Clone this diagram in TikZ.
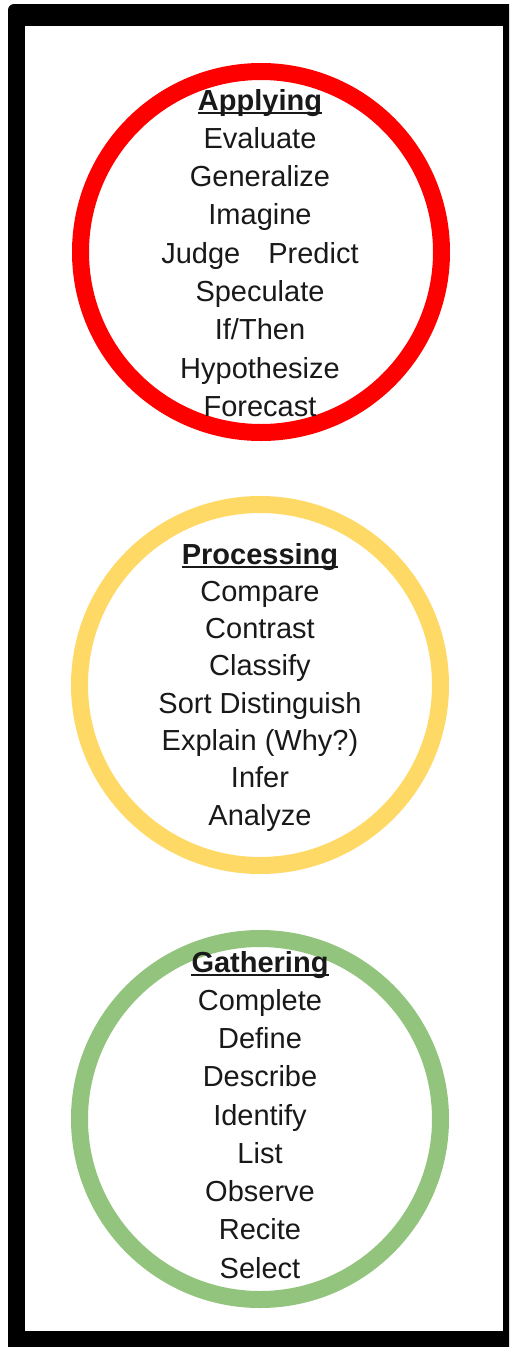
\documentclass[tikz,border=0pt]{standalone}
\usepackage{fontspec}
\setmainfont{Liberation Sans}
\definecolor{ringred}{RGB}{255,0,0}
\definecolor{ringyellow}{RGB}{255,217,102}
\definecolor{ringgreen}{RGB}{147,196,125}
\definecolor{inkgray}{RGB}{25,25,25}
\begin{document}
\begin{tikzpicture}[x=1pt,y=-1pt,
  ring/.style={circle, draw, line width=17pt, minimum size=361pt, inner sep=0pt},
  word/.style={anchor=base, inner sep=0pt, font=\fontsize{29}{35}\selectfont, text=inkgray},
  head/.style={anchor=base, inner sep=0pt, font=\fontsize{29}{35}\selectfont\bfseries, text=inkgray},
  uline/.style={line width=2pt, draw=inkgray}]
\useasboundingbox (0,0) rectangle (509,1347);
\begin{scope}
  \clip (0,0) rectangle (509,1347);
  \fill[black, rounded corners=6pt] (8,4) rectangle (540,1380);
  \fill[white] (25,26) rectangle (503,1331);
\end{scope}
% rings
\node[ring, draw=ringred] (r1) at (261,252) {};
\node[ring, draw=ringyellow] (r2) at (260,685) {};
\node[ring, draw=ringgreen] (r3) at (260,1119) {};
% Applying
\node[head] (h1) at (260,110) {Applying};
\draw[uline] ([yshift=-3pt]h1.base west) -- ([yshift=-3pt]h1.base east);
\foreach \t [count=\i] in {Evaluate,Generalize,Imagine,{Judge\hspace{28pt}Predict},Speculate,If/Then,Hypothesize,Forecast}
  \node[word] (a\i) at (260,110+38.3*\i) {\t};
% Processing
\node[head] (h2) at (260,564) {Processing};
\draw[uline] ([yshift=-3pt]h2.base west) -- ([yshift=-3pt]h2.base east);
\foreach \t [count=\i] in {Compare,Contrast,Classify,Sort Distinguish,Explain (Why?),Infer,Analyze}
  \node[word] (p\i) at (260,564+37.3*\i) {\t};
% Gathering
\node[head] (h3) at (260,972) {Gathering};
\draw[uline] ([yshift=-3pt]h3.base west) -- ([yshift=-3pt]h3.base east);
\foreach \t [count=\i] in {Complete,Define,Describe,Identify,List,Observe,Recite,Select}
  \node[word] (g\i) at (260,972+38.25*\i) {\t};
\end{tikzpicture}
\end{document}
